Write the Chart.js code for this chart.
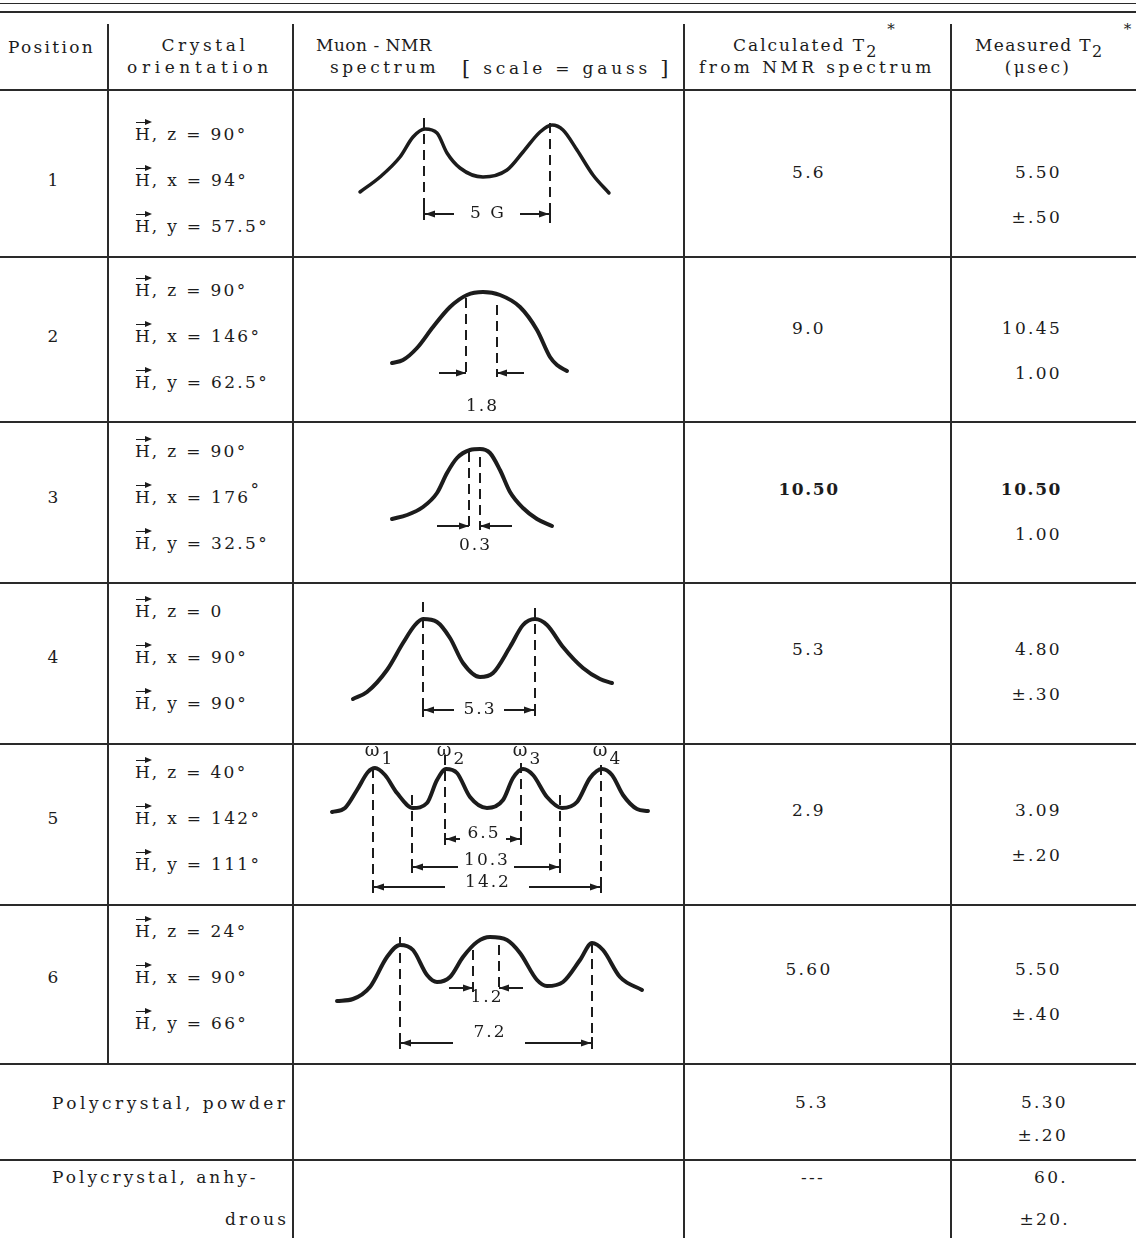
<!DOCTYPE html>
<html>
<head>
<meta charset="utf-8">
<script src="https://cdn.jsdelivr.net/npm/chart.js@4.4.1/dist/chart.umd.min.js"></script>
<style>
  body { margin: 0; background: #fff; }
  #page { position: relative; width: 1136px; height: 1247px; overflow: hidden;
          font-family: "DejaVu Serif", serif; font-size: 17px; letter-spacing: 2.3px; color: #1c1c1c; }
  .t { position: absolute; line-height: 20px; white-space: nowrap; }
  .ln { position: absolute; background: #2a2a2a; }
  .vec { position: relative; display: inline-block; letter-spacing: 0; margin-right: 2px; }
  .vec::before { content: ''; position: absolute; left: 1px; right: 2px; top: -2px; border-top: 1.5px solid #1c1c1c; }
  .vec::after { content: ''; position: absolute; right: -2px; top: -5.5px; border-left: 7px solid #1c1c1c;
                border-top: 3.5px solid transparent; border-bottom: 3.5px solid transparent; }
  .sub { position: relative; top: 6px; font-size: 16px; }
  .sup { position: relative; top: -17px; font-size: 15px; margin-left: 9px; }
  .br { font-size: 21px; position: relative; top: 1px; }
  canvas { position: absolute; }
</style>
</head>
<body>
<div id="page"></div>
<script>
const INK = '#1c1c1c';

// table contents
const positions = ['1', '2', '3', '4', '5', '6'];
const orientZ = ['90°', '90°', '90°', '0', '40°', '24°'];
const orientX = ['94°', '146°', '176<span style="position:relative;top:-8px">°</span>', '90°', '142°', '90°'];
const orientY = ['57.5°', '62.5°', '32.5°', '90°', '111°', '66°'];
const calcT2 = ['5.6', '9.0', '10.50', '5.3', '2.9', '5.60'];
const measT2 = ['5.50', '10.45', '10.50', '4.80', '3.09', '5.50'];
const measErr = ['±.50', '1.00', '1.00', '±.30', '±.20', '±.40'];
const polyLabels = ['Polycrystal, powder', 'Polycrystal, anhy-'];
const polyCalc = ['5.3', '---'];
const polyMeas = ['5.30', '60.'];
const polyErr = ['±.20', '±20.'];

// hand-drawn spectra: [field position, amplitude]
const spec1 = [[67, 60], [87, 75], [107, 95], [120, 115], [132, 123], [144, 119], [154, 99], [167, 84], [190, 75],
  [214, 82], [230, 100], [247, 120], [259, 127], [270, 122], [284, 102], [300, 77], [316, 59]];
const spec2 = [[99, 57], [110, 60], [124, 72], [140, 93], [157, 113], [174, 125], [190, 128], [207, 125],
  [227, 113], [244, 90], [257, 63], [264, 55], [274, 49]];
const spec3 = [[99, 64], [114, 68], [130, 76], [144, 90], [154, 110], [164, 125], [177, 133], [187, 134],
  [197, 130], [207, 113], [217, 91], [230, 75], [244, 64], [259, 57]];
const spec4 = [[60, 44], [74, 51], [94, 73], [110, 100], [122, 118], [130, 124], [144, 121], [157, 105], [170, 80],
  [187, 66], [200, 70], [217, 96], [230, 118], [242, 124], [254, 118], [270, 96], [290, 75], [307, 64], [319, 60]];
const spec5 = [[39, 92], [52, 96], [64, 114], [75, 132], [82, 136], [92, 129], [104, 111], [120, 96], [134, 101],
  [144, 124], [153, 135], [164, 131], [177, 107], [194, 96], [210, 104], [220, 126], [230, 135], [240, 129],
  [254, 107], [269, 96], [284, 102], [297, 126], [309, 135], [319, 129], [330, 109], [344, 95], [355, 93]];
const spec6 = [[44, 64], [60, 66], [77, 78], [94, 108], [107, 120], [120, 115], [134, 90], [144, 83], [157, 88],
  [170, 108], [184, 123], [197, 128], [214, 125], [227, 112], [244, 85], [254, 79], [270, 83], [287, 105],
  [299, 122], [310, 115], [327, 88], [349, 75]];

// dashed guides [position, top, bottom]
const guides1 = [[131, 134, 34], [257, 129, 29]];
const guides2 = [[173, 122, 43], [204, 115, 43]];
const guides3 = [[176, 131, 53], [187, 126, 53]];
const guides4 = [[130, 141, 26], [242, 135, 26]];
const guides5 = [[80, 136, 11], [152, 149, 64], [228, 141, 64], [308, 139, 11], [119, 109, 34], [267, 109, 34]];
const guides6 = [[107, 128, 17], [299, 122, 22], [180, 115, 73], [206, 120, 73]];

// separation markers (gauss labels)
const dims1 = [{ a: 131, b: 257, y: 38, text: '5 G', gap: 33 }];
const dims2 = [{ a: 173, b: 204, y: 47, text: '1.8', out: 27, ty: 13 }];
const dims3 = [{ a: 176, b: 187, y: 57, text: '0.3', out: 32, ty: 37 }];
const dims4 = [{ a: 130, b: 242, y: 33, text: '5.3', gap: 25 }];
const dims5 = [
  { a: 152, b: 228, y: 65, text: '6.5', gap: 23, ty: 70 },
  { a: 119, b: 267, y: 37, text: '10.3', gap: 28, ty: 43 },
  { a: 80, b: 308, y: 17, text: '14.2', gap: 42, ty: 21 }
];
const dims6 = [
  { a: 180, b: 206, y: 77, text: '1.2', out: 24, ty: 67 },
  { a: 107, b: 299, y: 22, text: '7.2', gap: 36, tx: 196, ty: 32 }
];
const notes5 = [[80, '1'], [152, '2'], [228, '3'], [308, '4']];

const page = document.getElementById('page');

function put(html, x, yc, align, extra) {
  const d = document.createElement('div');
  d.className = 't';
  d.innerHTML = html;
  d.style.left = x + 'px';
  d.style.top = (yc - 10) + 'px';
  if (align === 'center') d.style.transform = 'translateX(-50%)';
  if (align === 'right') d.style.transform = 'translateX(-100%)';
  if (extra) d.style.cssText += extra;
  page.appendChild(d);
}
function hline(y, w, x0, x1) {
  const d = document.createElement('div');
  d.className = 'ln';
  d.style.cssText += `left:${x0 || 0}px;width:${(x1 || 1136) - (x0 || 0)}px;top:${y}px;height:${w}px`;
  page.appendChild(d);
}
function vline(x, y0, y1) {
  const d = document.createElement('div');
  d.className = 'ln';
  d.style.cssText += `left:${x}px;width:1.5px;top:${y0}px;height:${y1 - y0}px`;
  page.appendChild(d);
}

// rules
hline(3, 1.2);
hline(11, 2.2);
hline(89, 2);
const rowLines = [256, 421, 582, 743, 904, 1063, 1159];
rowLines.forEach(y => hline(y, 1.6));
vline(107, 24, 1063);
[292, 683, 950].forEach(x => vline(x, 24, 1238));

// header
put('Position', 8, 47);
put('Crystal', 205, 45, 'center', 'letter-spacing:3.6px');
put('orientation', 200, 67, 'center', 'letter-spacing:4.6px');
put('Muon - NMR', 316, 45, null, 'letter-spacing:0.5px');
put('spectrum', 330, 67, null, 'letter-spacing:3.5px');
put('<span class="br">[</span> scale = gauss <span class="br">]</span>', 462, 67, null, 'letter-spacing:3.8px');
put('Calculated T<span class="sub">2</span><span class="sup">*</span>', 733, 45, null, 'letter-spacing:2px');
put('from NMR spectrum', 699, 67, null, 'letter-spacing:3.4px');
put('Measured T<span class="sub">2</span><span class="sup" style="margin-left:20px">*</span>', 975, 45, null, 'letter-spacing:1.4px');
put('(μsec)', 1038, 67, 'center');

// single-crystal rows
const rowMid = [180, 336, 497, 657, 818, 977];
const H = '<span class="vec">H</span>, ';
rowMid.forEach((m, i) => {
  const bold = i === 2 ? 'font-weight:bold;letter-spacing:1.6px;' : '';
  put(positions[i], 54, m, 'center');
  put(H + 'z = ' + orientZ[i], 135, m - 46);
  put(H + 'x = ' + orientX[i], 135, m);
  put(H + 'y = ' + orientY[i], 135, m + 46);
  put(calcT2[i], 809, m - 8, 'center', bold);
  put(measT2[i], 1062, m - 8, 'right', bold);
  put(measErr[i], 1062, m + 37, 'right');
});

// polycrystal rows
put(polyLabels[0], 52, 1103, null, 'letter-spacing:3.5px');
put(polyCalc[0], 812, 1102, 'center');
put(polyMeas[0], 1068, 1102, 'right');
put(polyErr[0], 1068, 1135, 'right');
put(polyLabels[1], 52, 1177, null, 'letter-spacing:3px');
put('drous', 289, 1219, 'right', 'letter-spacing:3px');
put(polyCalc[1], 813, 1177, 'center');
put(polyMeas[1], 1068, 1177, 'right');
put(polyErr[1], 1070, 1219, 'right');

// guides, separation arrows and peak labels drawn on top of each spectrum
function arrowHead(ctx, x, y, dir) {
  ctx.beginPath();
  ctx.moveTo(x, y);
  ctx.lineTo(x - dir * 10, y - 3.5);
  ctx.lineTo(x - dir * 10, y + 3.5);
  ctx.closePath();
  ctx.fill();
}
const sketchMarks = {
  id: 'sketchMarks',
  afterDatasetsDraw(chart, args, opts) {
    const ctx = chart.ctx, xs = chart.scales.x, ys = chart.scales.y;
    const X = v => xs.getPixelForValue(v), Y = v => ys.getPixelForValue(v);
    ctx.save();
    ctx.strokeStyle = INK;
    ctx.fillStyle = INK;
    ctx.lineWidth = 2;
    ctx.setLineDash([10, 6]);
    (opts.guides || []).forEach(g => {
      ctx.beginPath();
      ctx.moveTo(X(g[0]), Y(g[1]));
      ctx.lineTo(X(g[0]), Y(g[2]));
      ctx.stroke();
    });
    ctx.setLineDash([]);
    ctx.font = '17px "DejaVu Serif"';
    ctx.letterSpacing = '2px';
    ctx.textAlign = 'center';
    ctx.textBaseline = 'middle';
    (opts.dims || []).forEach(d => {
      const y = Y(d.y), a = X(d.a), b = X(d.b);
      const c = d.tx !== undefined ? X(d.tx) : (a + b) / 2;
      ctx.lineWidth = 2;
      if (d.out) {
        const l = X(d.a) - X(d.a - d.out);
        ctx.beginPath();
        ctx.moveTo(a - l, y); ctx.lineTo(a, y);
        ctx.moveTo(b + l, y); ctx.lineTo(b, y);
        ctx.stroke();
        arrowHead(ctx, a, y, 1);
        arrowHead(ctx, b, y, -1);
      } else {
        const g = X(d.gap) - X(0);
        ctx.beginPath();
        ctx.moveTo(a, y); ctx.lineTo(c - g, y);
        ctx.moveTo(c + g, y); ctx.lineTo(b, y);
        ctx.moveTo(a, y - 6); ctx.lineTo(a, y + 6);
        ctx.moveTo(b, y - 6); ctx.lineTo(b, y + 6);
        ctx.stroke();
        arrowHead(ctx, a + 1, y, -1);
        arrowHead(ctx, b - 1, y, 1);
      }
      ctx.fillText(d.text, c + 1, Y(d.ty !== undefined ? d.ty : d.y));
    });
    (opts.notes || []).forEach(n => {
      ctx.font = '18px "DejaVu Serif"';
      ctx.fillText('ω', X(n[0]), Y(153));
      ctx.font = '17px "DejaVu Serif"';
      ctx.fillText(n[1], X(n[0]) + 15, Y(144));
    });
    ctx.restore();
  }
};

const specTops = [92, 260, 423, 583, 744, 905];
const specs = [spec1, spec2, spec3, spec4, spec5, spec6];
const guides = [guides1, guides2, guides3, guides4, guides5, guides6];
const dims = [dims1, dims2, dims3, dims4, dims5, dims6];

specs.forEach((curve, i) => {
  const cv = document.createElement('canvas');
  cv.width = 390;
  cv.height = 160;
  cv.style.left = '293px';
  cv.style.top = specTops[i] + 'px';
  page.appendChild(cv);
  new Chart(cv.getContext('2d'), {
    type: 'line',
    data: {
      datasets: [{
        data: curve.map(p => ({ x: p[0], y: p[1] })),
        borderColor: INK,
        borderWidth: i === 0 ? 3.5 : 4,
        pointRadius: 0,
        cubicInterpolationMode: 'monotone',
        borderCapStyle: 'round',
        borderJoinStyle: 'round',
        fill: false,
      }],
    },
    options: {
      responsive: false,
      animation: false,
      events: [],
      layout: { padding: 0 },
      scales: {
        x: { type: 'linear', min: 0, max: 390, display: false },
        y: { min: 0, max: 160, display: false },
      },
      plugins: {
        legend: { display: false },
        tooltip: { enabled: false },
        sketchMarks: { guides: guides[i], dims: dims[i], notes: i === 4 ? notes5 : [] },
      },
    },
    plugins: [sketchMarks],
  });
});
</script>
</body>
</html>
